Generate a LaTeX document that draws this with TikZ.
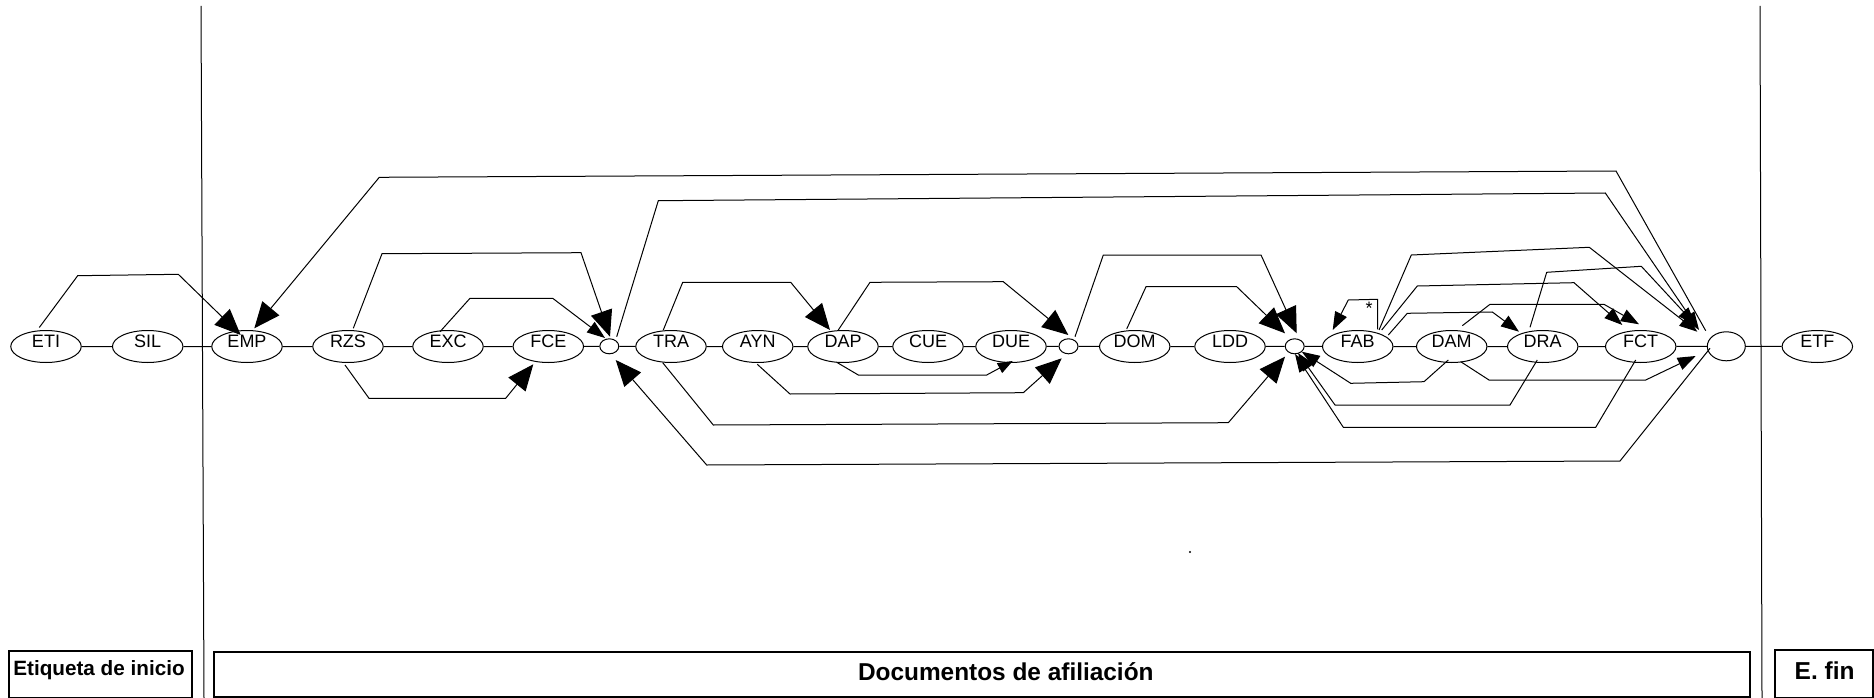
\documentclass[tikz,border=0pt]{standalone}
\usepackage{fontspec}
\setmainfont{Liberation Sans}
\usetikzlibrary{arrows.meta,shapes.geometric}
\newcommand\stlab[1]{\smash{\raisebox{-0.8pt}{#1}}}
\begin{document}
\begin{tikzpicture}[x=1pt,y=-1pt,line width=1pt,
  st/.style={draw,ellipse,minimum width=70.5pt,minimum height=32pt,inner sep=0pt,font=\fontsize{18}{18}\selectfont},
  jn/.style={draw,ellipse,minimum width=19pt,minimum height=15pt,inner sep=0pt},
  bigjn/.style={draw,ellipse,minimum width=38pt,minimum height=29pt,inner sep=0pt},
  big/.style={-{Triangle[length=26pt,width=22pt]}},
  mid/.style={-{Triangle[length=18pt,width=13pt]}},
  sml/.style={-{Triangle[length=15pt,width=11pt]}},
  lane/.style={draw,line width=1.8pt,inner sep=0pt,anchor=north west},
  lanetext/.style={anchor=base,font=\bfseries\fontsize{#1}{#1}\selectfont}]
\useasboundingbox (0,0) rectangle (1874,698);

% separators
\draw (201,6) -- (204,698);
\draw (1760,6) -- (1762,698);

% states
\node[st] (ETI) at (46,346.5) {\stlab{ETI}};
\node[st] (SIL) at (147.7,346.5) {\stlab{SIL}};
\node[st] (EMP) at (247,346.5) {\stlab{EMP}};
\node[st] (RZS) at (348,346.5) {\stlab{RZS}};
\node[st] (EXC) at (448,346.5) {\stlab{EXC}};
\node[st] (FCE) at (548.3,346.5) {\stlab{FCE}};
\node[jn] (c1) at (609.3,346.3) {};
\node[st] (TRA) at (671,346.5) {\stlab{TRA}};
\node[st] (AYN) at (757.7,346.5) {\stlab{AYN}};
\node[st] (DAP) at (843,346.5) {\stlab{DAP}};
\node[st] (CUE) at (928,346.5) {\stlab{CUE}};
\node[st] (DUE) at (1011,346.5) {\stlab{DUE}};
\node[jn] (c2) at (1068.5,346.3) {};
\node[st] (DOM) at (1134.7,346.5) {\stlab{DOM}};
\node[st] (LDD) at (1230,346.5) {\stlab{LDD}};
\node[jn] (c3) at (1294.7,346.3) {};
\node[st] (FAB) at (1357.7,346.5) {\stlab{FAB}};
\node[st] (DAM) at (1451.7,346.5) {\stlab{DAM}};
\node[st] (DRA) at (1542.7,346.5) {\stlab{DRA}};
\node[st] (FCT) at (1640.7,346.5) {\stlab{FCT}};
\node[bigjn] (c4) at (1726.3,346.3) {};
\node[st] (ETF) at (1817.3,346.5) {\stlab{ETF}};

% main chain
\draw (ETI) -- (SIL) -- (EMP) -- (RZS) -- (EXC) -- (FCE) -- (c1) -- (TRA) -- (AYN)
  -- (DAP) -- (CUE) -- (DUE) -- (c2) -- (DOM) -- (LDD) -- (c3) -- (FAB) -- (DAM)
  -- (DRA) -- (FCT) -- (c4) -- (ETF);

% jumps above the chain
\draw[big] ([shift={(-6.7,-19)}]ETI.center) -- (77.7,275.7) -- (178.3,274.3) -- ([shift={(-6.3,-11.5)}]EMP.center);
\draw[big] ([shift={(-20.6,-15.6)}]c4.center) -- (1616,171) -- (379.3,177.3) -- ([shift={(7.3,-18.2)}]EMP.center);
\draw[big] ([shift={(5.3,-18.2)}]RZS.center) -- (382,253.7) -- (581,252.7) -- ([shift={(0.7,-9.6)}]c1.center);
\draw[mid] ([shift={(-8,-14.8)}]EXC.center) -- (470,298.3) -- (552.7,298.3) -- ([shift={(-4.3,-8.3)}]c1.center);
\draw[mid] ([shift={(7.4,-9.6)}]c1.center) -- (658.3,200.7) -- (1605.3,193) -- ([shift={(-27.3,-16.3)}]c4.center);
\draw[big] ([shift={(-7.7,-16.5)}]TRA.center) -- (682.7,282.3) -- (790.7,282.3) -- ([shift={(-13,-16.5)}]DAP.center);
\draw[big] ([shift={(-4.7,-16.5)}]DAP.center) -- (870,282.3) -- (1003.3,281.7) -- ([shift={(-0.2,-11.3)}]c2.center);
\draw[big] ([shift={(6.5,-9.6)}]c2.center) -- (1103.3,255) -- (1261,255) -- ([shift={(2,-13)}]c3.center);
\draw[big] ([shift={(-8,-17.5)}]DOM.center) -- (1146,286.7) -- (1236.7,286.7) -- ([shift={(-9.7,-13)}]c3.center);
\draw[mid] ([shift={(20,-17.2)}]FAB.center) -- (1377.7,299.3) -- (1348.3,300) -- ([shift={(-25,-16.5)}]FAB.center);
\node[font=\fontsize{18}{18}\selectfont] (star) at (1369,308) {*};
\draw[mid] ([shift={(21.3,-16.5)}]FAB.center) -- (1411.3,255) -- (1589.3,247.3) -- ([shift={(-29,-14.6)}]c4.center);
\draw[mid] ([shift={(24,-16.5)}]FAB.center) -- (1417.3,286) -- (1574,282.7) -- ([shift={(-18.4,-21.5)}]FCT.center);
\draw[mid] ([shift={(30.6,-11.5)}]FAB.center) -- (1407.3,313.3) -- (1492.3,312) -- ([shift={(-23.7,-14.8)}]DRA.center);
\draw[mid] ([shift={(10.6,-20.8)}]DAM.center) -- (1490,304.3) -- (1604,304.3) -- ([shift={(-1.7,-22.2)}]FCT.center);
\draw[mid] ([shift={(-12.7,-19.2)}]DRA.center) -- (1546.7,272.3) -- (1641.3,266.3) -- ([shift={(-30.6,-21.3)}]c4.center);

% jumps below the chain
\draw[big] ([shift={(-3,18.5)}]RZS.center) -- (369,398.3) -- (505.7,398.3) -- ([shift={(-15,17.8)}]FCE.center);
\draw[sml] ([shift={(-6.3,15.8)}]DAP.center) -- (858.3,375) -- (986.7,375) -- ([shift={(1.7,14.5)}]DUE.center);
\draw[big] ([shift={(-0.4,17.8)}]AYN.center) -- (790,394) -- (1023.3,392.7) -- ([shift={(-6.8,12)}]c2.center);
\draw[big] ([shift={(-8.3,16.2)}]TRA.center) -- (713.3,425) -- (1228.3,422.7) -- ([shift={(-9.7,10.4)}]c3.center);
\draw[mid] ([shift={(-3.4,13.5)}]DAM.center) -- (1424,381.7) -- (1350.7,383.3) -- ([shift={(7,5.4)}]c3.center);
\draw[mid] ([shift={(-5.4,13.5)}]DRA.center) -- (1510,405) -- (1335,405) -- ([shift={(3.3,6.7)}]c3.center);
\draw[mid] ([shift={(-5,13.5)}]FCT.center) -- (1595.7,427.3) -- (1343.3,427.3) -- ([shift={(0.3,7.7)}]c3.center);
\draw[mid] ([shift={(9,15.2)}]DAM.center) -- (1489,380) -- (1645.7,380) -- ([shift={(-30.6,9.7)}]c4.center);
\draw[big] ([shift={(-16.3,2)}]c4.center) -- (1620,461) -- (706.7,465) -- ([shift={(6.4,13.7)}]c1.center);

% stray dot
\fill (1190,552) circle (1.1pt);

% lanes
\node[lane,minimum width=183pt,minimum height=47pt] (lane1) at (8,650) {};
\node[lane,minimum width=1536pt,minimum height=45pt] (lane2) at (213,651) {};
\node[lane,minimum width=98pt,minimum height=48pt] (lane3) at (1774,649) {};
\node[lanetext=20.7] (t1) at (99,675) {Etiqueta de inicio};
\node[lanetext=24.4] (t2) at (1005.8,680) {Documentos de afiliación};
\node[lanetext=24.5] (t3) at (1824.6,679) {E. fin};
\end{tikzpicture}
\end{document}
